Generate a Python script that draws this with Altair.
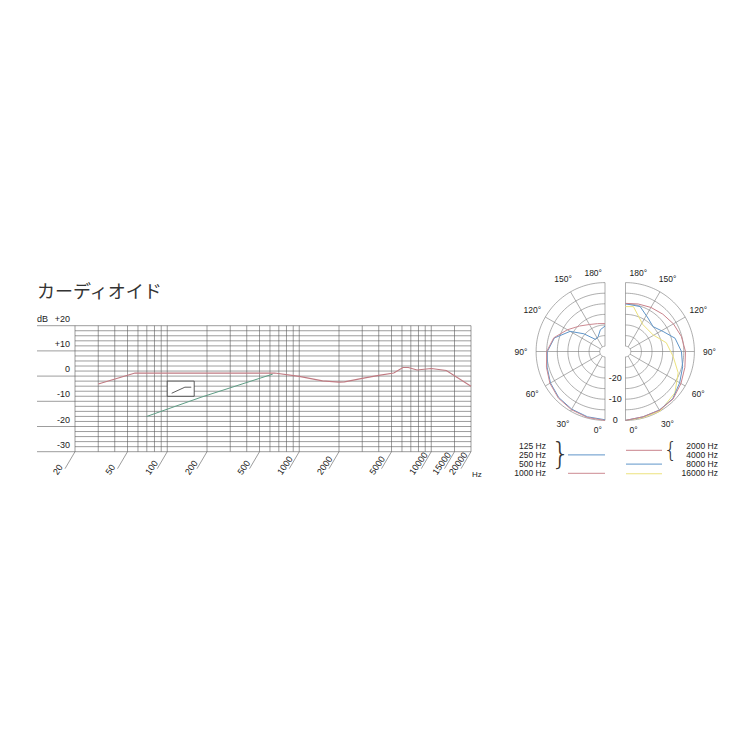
import altair as alt
import pandas as pd
import numpy as np

# ---------------- data ----------------
TITLE = "カーディオイド"

# frequency response (Hz, dB)
resp_freq = [30, 57, 650, 1000, 1500, 2000, 2200, 3000, 4000, 5200, 6100, 6700, 7800, 10000, 13000, 20000]
resp_db = [-3.1, 1.2, 1.2, -0.1, -1.9, -2.4, -2.3, -0.9, 0.3, 1.2, 3.4, 3.4, 2.4, 3.0, 2.2, -4.0]

# low-cut response
cut_freq = [70, 180, 630]
cut_db = [-16.0, -8.4, 0.8]

# low-cut switch icon
icon_box_freq = [100, 160]
icon_box_db = [-2, -8]
icon_freq = [108, 136, 152]
icon_db = [-6.8, -4.4, -4.4]

freq_tick_values = [20, 50, 100, 200, 500, 1000, 2000, 5000, 10000, 15000, 20000]
freq_tick_labels = ["20", "50", "100", "200", "500", "1000", "2000", "5000", "10000", "15000", "20000"]
freq_grid = ([10 * i for i in range(2, 10)] + [100 * i for i in range(1, 10)]
             + [1000 * i for i in range(1, 10)] + [10000, 15000, 20000])
db_grid = list(range(-30, 21, 2))
db_major = [-30, -20, -10, 0, 10, 20]
db_major_labels = ["-30", "-20", "-10", "0", "+10", "+20"]

# polar patterns: angle (deg, 0 = front/bottom) and level (dB)
p1000_ang = [0, 15, 30, 45, 60, 75, 90, 105, 120, 135, 150, 165, 180]
p1000_db = [0, -0.3, -0.8, -1.4, -2.5, -3.9, -5.0, -7.5, -12.0, -15.5, -17.8, -18.9, -19.3]

plow_ang = [0, 15, 30, 45, 60, 75, 90, 105, 120, 130, 142, 155, 168, 180]
plow_db = [-0.3, -0.6, -1.1, -1.7, -2.8, -4.2, -5.3, -7.8, -13.5, -19.5, -25.3, -24.8, -22.0, -20.5]

p2000_ang = [0, 15, 30, 45, 60, 75, 90, 105, 120, 135, 150, 165, 180]
p2000_db = [0, -0.6, -0.5, -0.8, -2.3, -3.5, -4.2, -5.2, -6.4, -7.6, -8.5, -9.3, -9.8]

p8000_ang = [0, 15, 30, 45, 60, 75, 90, 105, 118, 132, 146, 162, 180]
p8000_db = [0, -0.6, -0.6, -1.0, -3.0, -4.6, -6.1, -8.3, -12.4, -15.0, -13.5, -10.2, -10.0]

p16000_ang = [0, 15, 30, 50, 68, 84, 102, 121, 147, 170, 180]
p16000_db = [0, -0.2, 0, -2.1, -5.7, -9.9, -12.8, -17.3, -17.4, -11.0, -11.3]

ring_levels = [0, -5, -10, -15, -20, -25, -30]
spoke_angles = [0, 30, 60, 90, 120, 150, 180]
angle_labels = ["0°", "30°", "60°", "90°", "120°", "150°", "180°"]
level_labels_db = [0, -10, -20]
level_labels = ["0", "-10", "-20"]

legend_left_labels = ["125 Hz", "250 Hz", "500 Hz", "1000 Hz"]
legend_right_labels = ["2000 Hz", "4000 Hz", "8000 Hz", "16000 Hz"]

series_names = ["125-500 Hz", "1000 Hz", "2000/4000 Hz", "8000 Hz", "16000 Hz"]
series_colors = ["#5f95c9", "#cc8a92", "#c9828b", "#5f95c9", "#ece27e"]

# ---------------- layout constants ----------------
FONT = "Liberation Sans"
GRID = "#5a5a5a"
PGRID = "#777777"
R0 = 32.5      # dB offset so that -32.5 dB is the polar centre
K = 2.12       # px per dB in polar plots

fx = alt.Scale(type="log", domain=[20, 20000], range=[67, 463], nice=False)
fy = alt.Scale(domain=[-30, 20], range=[443.7, 317.7], nice=False, zero=False)

LCX, RCX, CY = 597.0, 617.5, 343.5
plx = alt.Scale(domain=[-40, 0], range=[LCX - 40 * K, LCX], nice=False, zero=False)
prx = alt.Scale(domain=[0, 40], range=[RCX, RCX + 40 * K], nice=False, zero=False)
py = alt.Scale(domain=[-40, 40], range=[CY + 40 * K, CY - 40 * K], nice=False, zero=False)


def X(field, scale):
    return alt.X(field, type="quantitative", scale=scale, axis=None)


def Y(field, scale):
    return alt.Y(field, type="quantitative", scale=scale, axis=None)


# ---------------- frequency chart ----------------
hgrid = pd.DataFrame({"db": db_grid, "f1": 20, "f2": 20000})
major = pd.DataFrame({"db": db_major, "lab": db_major_labels, "f1": 20, "f2": 20})
vgrid = pd.DataFrame({"f": freq_grid, "d1": -30, "d2": 20})
ticks = pd.DataFrame({"f": freq_tick_values, "lab": freq_tick_labels, "d": -30})
resp = pd.DataFrame({"f": resp_freq, "db": resp_db, "i": range(len(resp_freq))})
cut = pd.DataFrame({"f": cut_freq, "db": cut_db, "i": range(len(cut_freq))})
box = pd.DataFrame({"f1": [icon_box_freq[0]], "f2": [icon_box_freq[1]],
                    "d1": [icon_box_db[0]], "d2": [icon_box_db[1]]})
icon = pd.DataFrame({"f": icon_freq, "db": icon_db, "i": range(len(icon_freq))})
single = pd.DataFrame({"f": [20], "db": [20], "title": [TITLE], "dbl": ["dB"]})
hz = pd.DataFrame({"f": [20000], "db": [-30], "t": ["Hz"]})

f_layers = [
    alt.Chart(hgrid).mark_rule(color=GRID, strokeWidth=0.6).encode(
        x=X("f1", fx), x2="f2", y=Y("db", fy)),
    alt.Chart(major).mark_rule(color=GRID, strokeWidth=0.6, xOffset=-38).encode(
        x=X("f1", fx), x2="f2", y=Y("db", fy)),
    alt.Chart(vgrid).mark_rule(color=GRID, strokeWidth=0.6).encode(
        x=X("f", fx), y=Y("d1", fy), y2="d2"),
    alt.Chart(ticks).mark_rule(color=GRID, strokeWidth=0.6, x2Offset=-10, y2Offset=17).encode(
        x=X("f", fx), x2="f", y=Y("d", fy), y2="d"),
    alt.Chart(ticks).mark_text(font=FONT, fontSize=9, color="#222", angle=305, align="left",
                               baseline="middle", xOffset=-20, yOffset=22).encode(
        x=X("f", fx), y=Y("d", fy), text="lab"),
    alt.Chart(major).mark_text(font=FONT, fontSize=9, color="#222", align="right",
                               baseline="bottom", xOffset=-5, yOffset=-2).encode(
        x=X("f1", fx), y=Y("db", fy), text="lab"),
    alt.Chart(single).mark_text(font=FONT, fontSize=9, color="#222", align="left",
                                baseline="bottom", xOffset=-38, yOffset=-2).encode(
        x=X("f", fx), y=Y("db", fy), text="dbl"),
    alt.Chart(single).mark_text(font="Noto Sans CJK JP", fontSize=18, color="#333", align="left",
                                baseline="middle", xOffset=-38, yOffset=-33).encode(
        x=X("f", fx), y=Y("db", fy), text="title"),
    alt.Chart(hz).mark_text(font=FONT, fontSize=8, color="#222", align="left",
                            baseline="middle", xOffset=1, yOffset=23).encode(
        x=X("f", fx), y=Y("db", fy), text="t"),
    alt.Chart(box).mark_rect(fill="white", stroke="#333", strokeWidth=0.8).encode(
        x=X("f1", fx), x2="f2", y=Y("d1", fy), y2="d2"),
    alt.Chart(icon).mark_line(color="#333", strokeWidth=0.8).encode(
        x=X("f", fx), y=Y("db", fy), order="i:Q"),
    alt.Chart(cut).mark_line(color="#5f9e86", strokeWidth=1.0).encode(
        x=X("f", fx), y=Y("db", fy), order="i:Q"),
    alt.Chart(resp).mark_line(color="#c07a82", strokeWidth=1.1).encode(
        x=X("f", fx), y=Y("db", fy), order="i:Q"),
]
freq_chart = alt.layer(*f_layers)


# ---------------- polar charts ----------------
def polar_points(angles, levels, side, name):
    a = np.radians(np.array(angles, dtype=float))
    r = np.array(levels, dtype=float) + R0
    return pd.DataFrame({"x": side * r * np.sin(a), "y": -r * np.cos(a),
                         "i": range(len(angles)), "s": name})


def rings(side):
    rows = []
    for L in ring_levels:
        for j, ang in enumerate(range(0, 181, 2)):
            a = np.radians(ang)
            r = L + R0
            rows.append({"ring": L, "i": j, "x": side * r * np.sin(a), "y": -r * np.cos(a)})
    return pd.DataFrame(rows)


def spokes(side):
    a = np.radians(np.array(spoke_angles, dtype=float))
    r1, r2 = ring_levels[-1] + R0, ring_levels[0] + R0
    return pd.DataFrame({"x1": side * r1 * np.sin(a), "y1": -r1 * np.cos(a),
                         "x2": side * r2 * np.sin(a), "y2": -r2 * np.cos(a)})


def angle_text(side):
    a = np.radians(np.array(spoke_angles, dtype=float))
    rl = 84.0 / K
    df = pd.DataFrame({"x": side * rl * np.sin(a), "y": -rl * np.cos(a), "t": angle_labels,
                       "ang": spoke_angles})
    inner = df[(df.ang > 0) & (df.ang < 180)]
    ends = df[(df.ang == 0) | (df.ang == 180)].copy()
    ends["x"] = 0.0
    ends["y"] = np.where(ends.ang == 0, -78.5 / K, 78.5 / K)
    return inner, ends


color_scale = alt.Scale(domain=series_names, range=series_colors)


def panel(side, xs, curves):
    rg = rings(side)
    sp = spokes(side)
    inner, ends = angle_text(side)
    layers = [
        alt.Chart(rg).mark_line(color=PGRID, strokeWidth=0.6).encode(
            x=X("x", xs), y=Y("y", py), detail="ring:N", order="i:Q"),
        alt.Chart(sp).mark_rule(color=PGRID, strokeWidth=0.6).encode(
            x=X("x1", xs), y=Y("y1", py), x2="x2", y2="y2"),
        alt.Chart(inner).mark_text(font=FONT, fontSize=8.5, color="#222", align="center",
                                   baseline="middle").encode(
            x=X("x", xs), y=Y("y", py), text="t"),
        alt.Chart(ends).mark_text(font=FONT, fontSize=8.5, color="#222",
                                  align="right" if side < 0 else "left", baseline="middle",
                                  xOffset=-3 if side < 0 else 4).encode(
            x=X("x", xs), y=Y("y", py), text="t"),
    ]
    for df in curves:
        layers.append(alt.Chart(df).mark_line(strokeWidth=1.0).encode(
            x=X("x", xs), y=Y("y", py), order="i:Q",
            color=alt.Color("s:N", scale=color_scale, legend=None)))
    return layers


left_curves = [polar_points(plow_ang, plow_db, -1, series_names[0]),
               polar_points(p1000_ang, p1000_db, -1, series_names[1])]
right_curves = [polar_points(p16000_ang, p16000_db, 1, series_names[4]),
                polar_points(p8000_ang, p8000_db, 1, series_names[3]),
                polar_points(p2000_ang, p2000_db, 1, series_names[2])]

lev = pd.DataFrame({"x": [0.0] * len(level_labels_db),
                    "y": [-(L + R0) for L in level_labels_db], "t": level_labels})
left_layers = panel(-1, plx, left_curves)
left_layers.append(alt.Chart(lev).mark_text(font=FONT, fontSize=9, color="#222", align="center",
                                            baseline="middle", xOffset=(RCX - LCX) / 2).encode(
    x=X("x", plx), y=Y("y", py), text="t"))
left_chart = alt.layer(*left_layers)
right_chart = alt.layer(*panel(1, prx, right_curves))

# ---------------- legend ----------------
ly = alt.Scale(domain=[0, 3], range=[437.7, 465.3], nice=False, zero=False)
leg_left = pd.DataFrame({"row": range(4), "t": legend_left_labels})
leg_right = pd.DataFrame({"row": range(4), "t": legend_right_labels})
leg_lines_left = pd.DataFrame({"row": [1, 3], "s": [series_names[0], series_names[1]]})
leg_lines_right = pd.DataFrame({"row": [0.5, 2, 3.05], "s": [series_names[2], series_names[3], series_names[4]]})
brace_left = pd.DataFrame({"row": [1.0], "t": ["}"]})
brace_right = pd.DataFrame({"row": [0.5], "t": ["{"]})

legend_chart = alt.layer(
    alt.Chart(leg_left).mark_text(font=FONT, fontSize=8.5, color="#222", align="right",
                                  baseline="middle").encode(
        x=alt.value(538), y=Y("row", ly), text="t"),
    alt.Chart(leg_right).mark_text(font=FONT, fontSize=8.5, color="#222", align="right",
                                   baseline="middle").encode(
        x=alt.value(710), y=Y("row", ly), text="t"),
    alt.Chart(leg_lines_left).mark_rule(strokeWidth=1.0).encode(
        x=alt.value(560), x2=alt.value(597), y=Y("row", ly),
        color=alt.Color("s:N", scale=color_scale, legend=None)),
    alt.Chart(leg_lines_right).mark_rule(strokeWidth=1.0).encode(
        x=alt.value(618), x2=alt.value(654), y=Y("row", ly),
        color=alt.Color("s:N", scale=color_scale, legend=None)),
    alt.Chart(brace_left).mark_text(font="DejaVu Sans", fontWeight=200, fontSize=30, color="#333",
                                    align="center", baseline="middle").encode(
        x=alt.value(552.5), y=Y("row", ly), text="t"),
    alt.Chart(brace_right).mark_text(font="DejaVu Sans", fontWeight=200, fontSize=22, color="#333",
                                     align="center", baseline="middle").encode(
        x=alt.value(662.5), y=Y("row", ly), text="t"),
)

chart = alt.layer(freq_chart, left_chart, right_chart, legend_chart).resolve_scale(
    x="independent", y="independent", color="shared"
).properties(
    width=734, height=734, autosize=alt.AutoSizeParams(type="none"), padding=0,
    background="white"
).configure_view(stroke=None)

chart.save("out.html", embed_options={"renderer": "svg", "actions": False})
